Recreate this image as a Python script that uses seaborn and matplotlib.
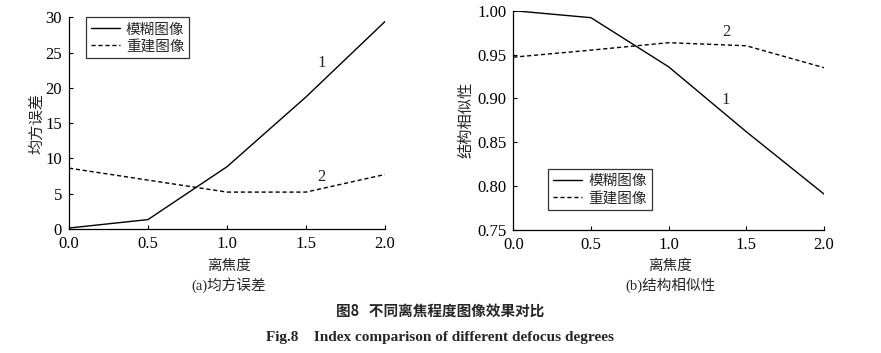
import matplotlib
matplotlib.use("Agg")
import matplotlib.pyplot as plt
import seaborn as sns
import pandas as pd

# ---- data ----
defocus = [0.0, 0.5, 1.0, 1.5, 2.0]
mse_blur = [0.1, 1.3, 8.8, 18.7, 29.4]
mse_recon = [8.6, 6.9, 5.2, 5.2, 7.7]
ssim_blur = [1.000, 0.992, 0.936, 0.862, 0.791]
ssim_recon = [0.947, 0.955, 0.9635, 0.960, 0.935]
series_names = ["模糊图像", "重建图像"]
mse_ticks = [0, 5, 10, 15, 20, 25, 30]
ssim_ticks = [0.75, 0.80, 0.85, 0.90, 0.95, 1.00]
x_ticks = [0.0, 0.5, 1.0, 1.5, 2.0]

sns.set_theme(style="ticks")
plt.rcParams['font.family'] = ['Liberation Serif', 'Noto Sans CJK SC', 'DejaVu Sans']
CJK = ['Noto Sans CJK SC', 'DejaVu Sans']
SERIF = ['Liberation Serif', 'Noto Sans CJK SC']

fig = plt.figure(figsize=(8.81, 3.53), dpi=100)
ax1 = fig.add_axes([0.0783, 0.352, 0.3587, 0.599])
ax2 = fig.add_axes([0.5826, 0.3484, 0.3527, 0.6214])

def make_df(a, b):
    return pd.DataFrame({
        "x": defocus * 2,
        "y": list(a) + list(b),
        "s": [series_names[0]] * len(defocus) + [series_names[1]] * len(defocus),
    })

for ax, a, b, ticks, ylim, fmt in [
    (ax1, mse_blur, mse_recon, mse_ticks, (0, 30), "{:g}"),
    (ax2, ssim_blur, ssim_recon, ssim_ticks, (0.75, 1.0), "{:.2f}"),
]:
    df = make_df(a, b)
    sns.lineplot(data=df, x="x", y="y", style="s", color="black",
                 dashes={series_names[0]: "", series_names[1]: (3, 2)},
                 linewidth=1.0, ax=ax, legend=True)
    ax.set_xlim(0, 2.0)
    ax.set_ylim(*ylim)
    ax.set_xticks(x_ticks)
    ax.set_xticklabels([f"{v:.1f}" for v in x_ticks], family=SERIF, fontsize=12)
    ax.set_yticks(ticks)
    ax.set_yticklabels([fmt.format(v) for v in ticks], family=SERIF, fontsize=12)
    ax.tick_params(direction="in", length=3, width=0.8, colors="black", pad=5)
    for sp in ["top", "right"]:
        ax.spines[sp].set_visible(False)
    for sp in ["left", "bottom"]:
        ax.spines[sp].set_color("black")
        ax.spines[sp].set_linewidth(0.9)
    ax.set_xlabel("")
    ax.set_ylabel("")

ax1.set_ylabel("均方误差", family=CJK, fontsize=11)
ax2.set_ylabel("结构相似性", family=CJK, fontsize=11)
ax1.yaxis.set_label_coords(-0.076, 0.5)
ax2.yaxis.set_label_coords(-0.126, 0.5)

leg_kw = dict(prop={"family": CJK, "size": 10.5}, frameon=True, fancybox=False,
              edgecolor="black", handlelength=2.0, borderpad=0.35, labelspacing=0.2,
              handletextpad=0.4, borderaxespad=0.0)
leg1 = ax1.legend(loc="upper left", bbox_to_anchor=(0.053, 1.0), **leg_kw)
leg1.get_frame().set_linewidth(0.9)
leg2 = ax2.legend(loc="lower left", bbox_to_anchor=(0.112, 0.09), **leg_kw)
leg2.get_frame().set_linewidth(0.9)

# curve labels
ax1.text(1.6, 23.5, "1", family=SERIF, fontsize=12, ha="center", va="center")
ax1.text(1.6, 7.3, "2", family=SERIF, fontsize=12, ha="center", va="center")
ax2.text(1.37, 0.976, "2", family=SERIF, fontsize=12, ha="center", va="center")
ax2.text(1.37, 0.898, "1", family=SERIF, fontsize=12, ha="center", va="center")

# x labels and subtitles
fig.text(229 / 881, 1 - 266 / 353, "离焦度", family=CJK, fontsize=10.5, ha="center", va="center")
fig.text(670 / 881, 1 - 266 / 353, "离焦度", family=CJK, fontsize=10.5, ha="center", va="center")
fig.text(229 / 881, 1 - 285 / 353, "(a)均方误差", family=SERIF, fontsize=10.5, ha="center", va="center")
fig.text(670 / 881, 1 - 285 / 353, "(b)结构相似性", family=SERIF, fontsize=10.5, ha="center", va="center")
fig.text(440 / 881, 1 - 311 / 353, "图8   不同离焦程度图像效果对比", family=CJK, fontsize=10.5,
         fontweight="bold", ha="center", va="center")
fig.text(440 / 881, 1 - 337 / 353, "Fig.8    Index comparison of different defocus degrees",
         family=SERIF, fontsize=11, fontweight="bold", ha="center", va="center")

fig.savefig("out.png", dpi=100, facecolor="white")
